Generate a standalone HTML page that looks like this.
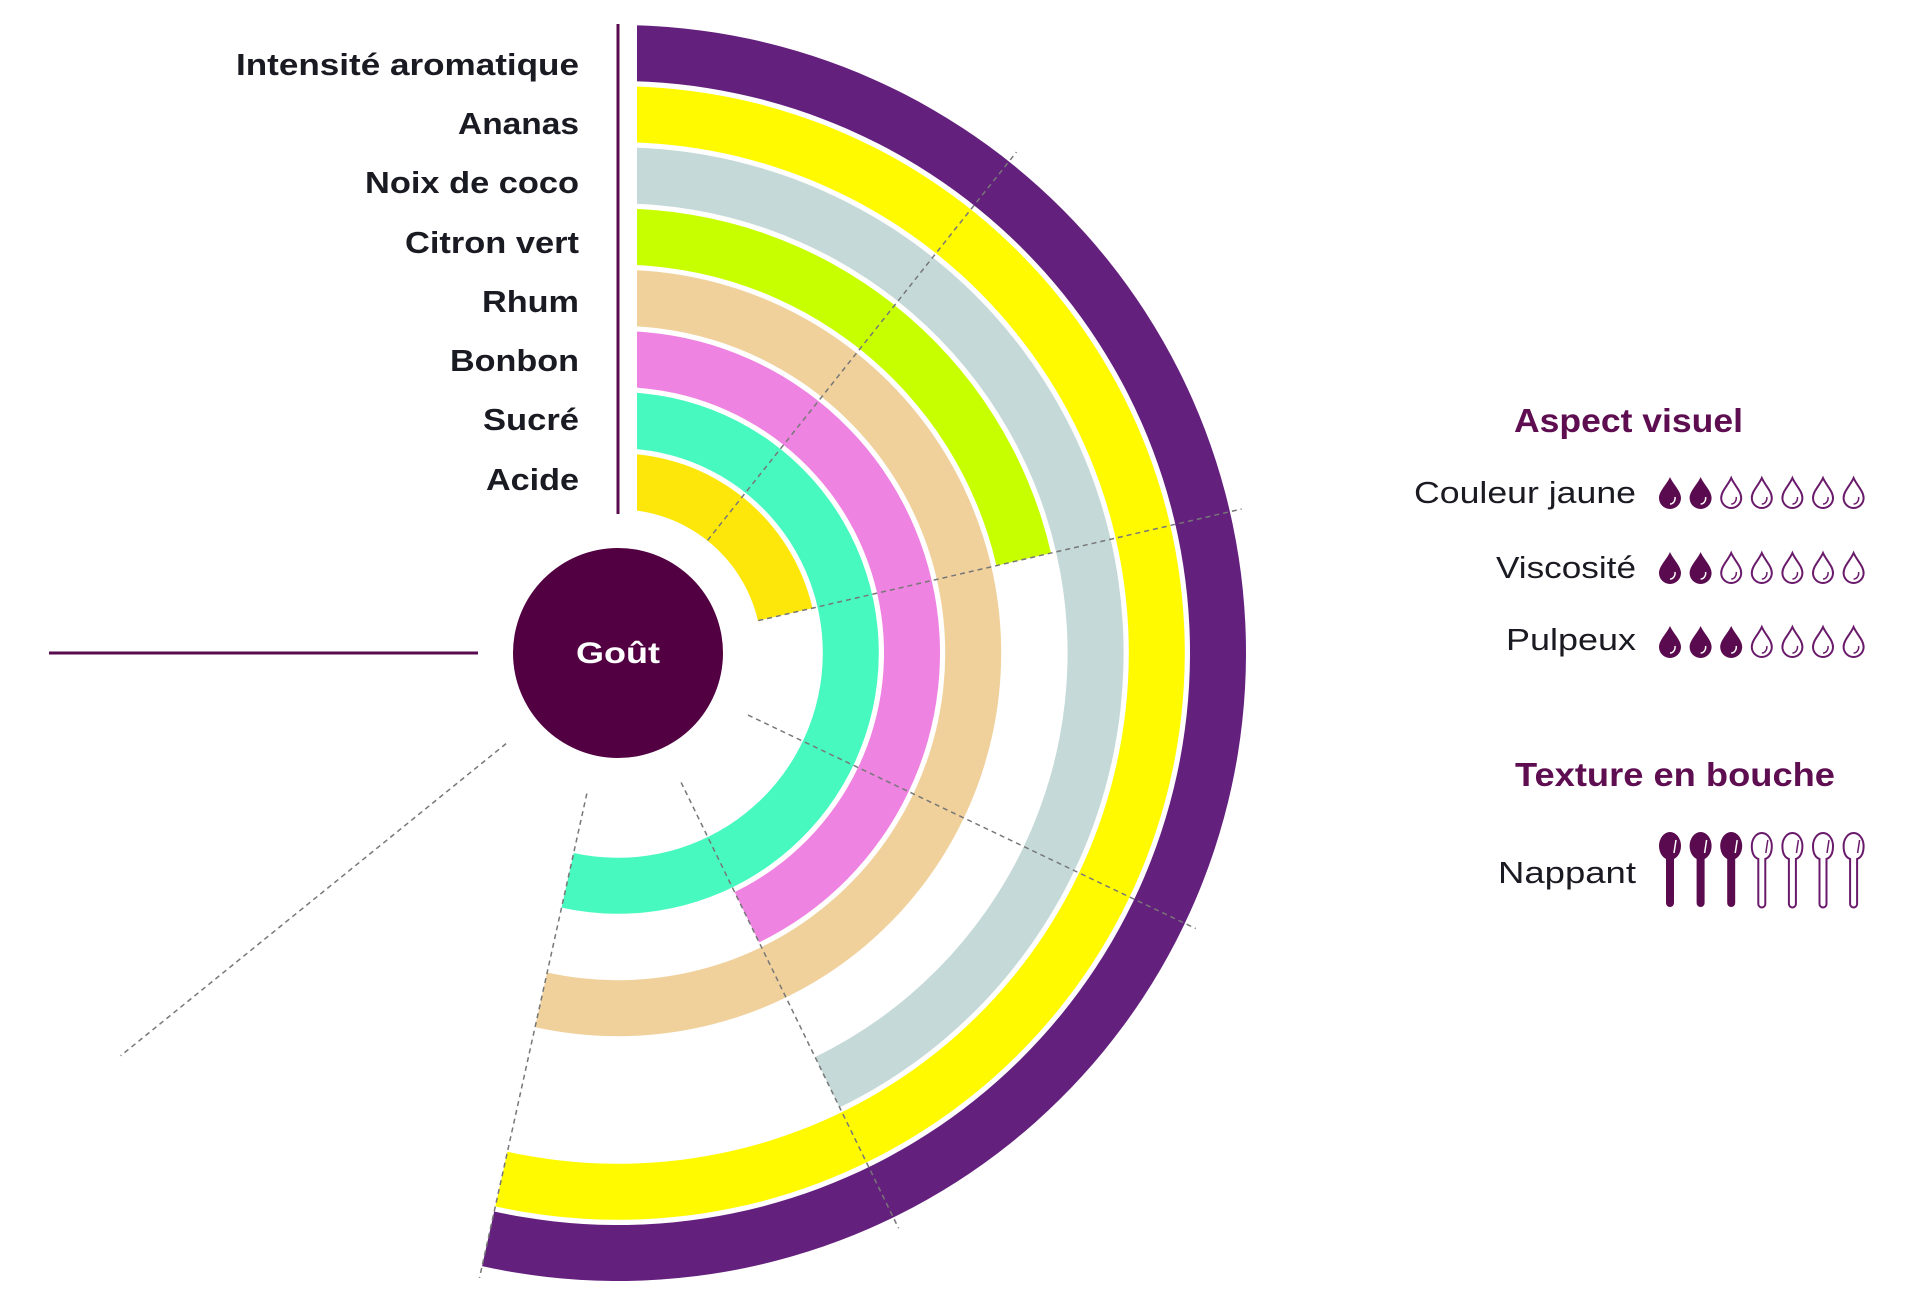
<!DOCTYPE html>
<html><head><meta charset="utf-8"><style>
html,body{margin:0;padding:0;background:#fff;width:1920px;height:1306px;overflow:hidden}
svg{display:block}
text{font-family:"Liberation Sans",sans-serif}
</style></head><body>
<svg id="s" width="1920" height="1306" viewBox="0 0 1920 1306" xmlns="http://www.w3.org/2000/svg">
<defs>
<g id="dropF"><path d="M0,-16 C3,-9 11,-2 11,5 A11,11 0 0 1 -11,5 C-11,-2 -3,-9 0,-16 Z" fill="#5a0a4e"/><path d="M5,4 A5,6 0 0 1 0,11" stroke="#fff" stroke-width="1.5" fill="none"/></g>
<g id="dropO"><path d="M0,-15 C3,-8 10,-2 10,5 A10,10 0 0 1 -10,5 C-10,-2 -3,-8 0,-15 Z" fill="none" stroke="#6a1a6a" stroke-width="2"/><path d="M5,4 A5,6 0 0 1 0,11" stroke="#6a1a6a" stroke-width="1.5" fill="none"/></g>
<g id="spF"><ellipse cx="0" cy="14" rx="11" ry="14" fill="#5a0a4e"/><rect x="-4" y="22" width="8" height="53" rx="4" fill="#5a0a4e"/><path d="M6,8 L4,21" stroke="#fff" stroke-width="1.5"/></g>
<g id="spO"><path d="M-3.5,27 C-9,25 -10,19 -10,14 A10,13 0 0 1 10,14 C10,19 9,25 3.5,27 L3.5,72 A3.5,3.5 0 0 1 -3.5,72 Z" fill="none" stroke="#6a1a6a" stroke-width="2"/><path d="M6,8 L4,21" stroke="#6a1a6a" stroke-width="1.5"/></g>
</defs>
<g id="rings"></g>
<rect x="600" y="0" width="37" height="640" fill="#fff"/>
<line x1="618" y1="24" x2="618" y2="514" stroke="#5a0a4e" stroke-width="3"/>
<line x1="49" y1="653" x2="478" y2="653" stroke="#5a0a4e" stroke-width="3"/>
<circle cx="618" cy="653" r="105" fill="#520042"/>
<text x="618" y="663" text-anchor="middle" font-size="30" font-weight="bold" fill="#fff" textLength="84" lengthAdjust="spacingAndGlyphs">Goût</text>
<g font-weight="bold" font-size="31" fill="#1a1a22" text-anchor="end">
<text x="579" y="75" textLength="343" lengthAdjust="spacingAndGlyphs">Intensité aromatique</text>
<text x="579" y="134" textLength="121" lengthAdjust="spacingAndGlyphs">Ananas</text>
<text x="579" y="193" textLength="214" lengthAdjust="spacingAndGlyphs">Noix de coco</text>
<text x="579" y="253" textLength="174" lengthAdjust="spacingAndGlyphs">Citron vert</text>
<text x="579" y="312" textLength="97" lengthAdjust="spacingAndGlyphs">Rhum</text>
<text x="579" y="371" textLength="129" lengthAdjust="spacingAndGlyphs">Bonbon</text>
<text x="579" y="430" textLength="96" lengthAdjust="spacingAndGlyphs">Sucré</text>
<text x="579" y="490" textLength="93" lengthAdjust="spacingAndGlyphs">Acide</text>
</g>
<g font-weight="bold" font-size="33" fill="#5e0d50">
<text x="1514" y="432" textLength="229" lengthAdjust="spacingAndGlyphs">Aspect visuel</text>
<text x="1515" y="786" textLength="320" lengthAdjust="spacingAndGlyphs">Texture en bouche</text>
</g>
<g font-size="31" fill="#1a1a22" text-anchor="end">
<text x="1636" y="503" textLength="222" lengthAdjust="spacingAndGlyphs">Couleur jaune</text>
<text x="1636" y="578" textLength="140" lengthAdjust="spacingAndGlyphs">Viscosité</text>
<text x="1636" y="650" textLength="130" lengthAdjust="spacingAndGlyphs">Pulpeux</text>
<text x="1636" y="883" textLength="138" lengthAdjust="spacingAndGlyphs">Nappant</text>
</g>
<g id="icons"></g>
</svg>
<script>
var cx=618,cy=653;
function pt(r,a){var t=(a-90)*Math.PI/180;return [cx+r*Math.cos(t),cy+r*Math.sin(t)];}
var rings=[["#64207d",192.5],["#fffa00",192.5],["#c5d9d9",154],["#c8ff00",77],["#f0d19c",192.5],["#ef83e2",154],["#48f9bf",192.5],["#fde70b",77]];
var g=document.getElementById("rings"),h="";
rings.forEach(function(c,i){var ro=628-61.2*i,ri=ro-56,a=c[1],lg=a>180?1:0;
var p1=pt(ro,0),p2=pt(ro,a),p3=pt(ri,a),p4=pt(ri,0);
h+='<path fill="'+c[0]+'" d="M'+p1+' A'+ro+','+ro+' 0 '+lg+' 1 '+p2+' L'+p3+' A'+ri+','+ri+' 0 '+lg+' 0 '+p4+' Z"/>';});
[38.5,77,115.5,154,192.5,231].forEach(function(a){var p=pt(144,a),q=pt(640,a);
h+='<line x1="'+p[0]+'" y1="'+p[1]+'" x2="'+q[0]+'" y2="'+q[1]+'" stroke="#777" stroke-width="1.5" stroke-dasharray="5,4"/>';});
g.innerHTML=h;
var ic="",rows=[[493,2],[568,2],[642,3]];
rows.forEach(function(r){for(var k=0;k<7;k++){ic+='<use href="#'+(k<r[1]?'dropF':'dropO')+'" x="'+(1670+30.6*k)+'" y="'+r[0]+'"/>';}});
for(var k=0;k<7;k++){ic+='<use href="#'+(k<3?'spF':'spO')+'" x="'+(1670+30.6*k)+'" y="832"/>';}
document.getElementById("icons").innerHTML=ic;
</script>
</body></html>
